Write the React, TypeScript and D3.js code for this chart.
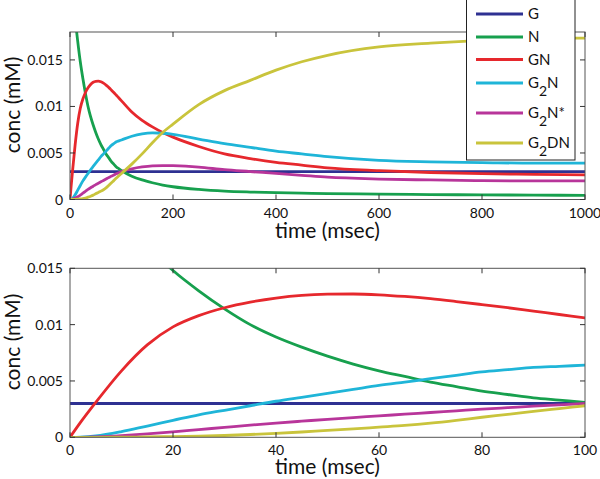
import React from "react";
import * as d3 from "d3";

const times = [0, 2, 5, 10, 15, 20, 25, 30, 35, 40, 45, 50, 55, 60, 65, 70, 75, 80, 85, 90, 95, 100, 120, 140, 160, 180, 200, 250, 300, 350, 400, 450, 500, 600, 700, 800, 900, 1000];

const G = times.map(() => 0.003);
const N = [0.026, 0.0245, 0.0225, 0.0195, 0.017, 0.0148, 0.013, 0.0114, 0.01, 0.0089, 0.008, 0.0072, 0.0065, 0.0059, 0.0054, 0.0049, 0.0045, 0.0041, 0.0038, 0.0035, 0.0033, 0.0031, 0.0025, 0.0021, 0.0018, 0.00155, 0.00137, 0.00108, 0.0009, 0.0008, 0.00073, 0.00068, 0.00064, 0.00058, 0.00053, 0.0005, 0.00047, 0.00045];
const GN = [0, 0.0013, 0.0031, 0.0059, 0.0082, 0.0098, 0.0108, 0.0115, 0.012, 0.01236, 0.0126, 0.0127, 0.01272, 0.01265, 0.0125, 0.0123, 0.01205, 0.01178, 0.0115, 0.0112, 0.0109, 0.0106, 0.0094, 0.0085, 0.0078, 0.0072, 0.0067, 0.0057, 0.0049, 0.0044, 0.004, 0.0037, 0.0034, 0.0031, 0.0029, 0.00277, 0.0027, 0.00265];
const G2N = [0, 0.00002, 0.00012, 0.0005, 0.001, 0.0015, 0.002, 0.0024, 0.0028, 0.0032, 0.00355, 0.0039, 0.00425, 0.0046, 0.0049, 0.0052, 0.0055, 0.0058, 0.006, 0.0062, 0.0063, 0.0064, 0.0068, 0.00705, 0.00715, 0.00712, 0.007, 0.0065, 0.006, 0.0056, 0.0052, 0.0049, 0.0046, 0.0042, 0.00405, 0.00397, 0.0039, 0.0039];
const G2Nstar = [0, 0, 0.00004, 0.00015, 0.0003, 0.00048, 0.00068, 0.00088, 0.00108, 0.00126, 0.00143, 0.0016, 0.00175, 0.0019, 0.00205, 0.0022, 0.00235, 0.0025, 0.00263, 0.00276, 0.00288, 0.003, 0.0033, 0.0035, 0.00362, 0.00365, 0.00363, 0.00348, 0.0032, 0.003, 0.0028, 0.0026, 0.0024, 0.0022, 0.0021, 0.00203, 0.002, 0.002];
const G2DN = [0, 0, 0, 0.00001, 0.00003, 0.00006, 0.0001, 0.00016, 0.00025, 0.00035, 0.00047, 0.00062, 0.00075, 0.0009, 0.00105, 0.00125, 0.0015, 0.00178, 0.00203, 0.0023, 0.00255, 0.0028, 0.0038, 0.0049, 0.0061, 0.0072, 0.0081, 0.0102, 0.0117, 0.0128, 0.0139, 0.0148, 0.0155, 0.0164, 0.0168, 0.0171, 0.0173, 0.01735];

const seriesNames = ["G", "N", "GN", "G2N", "G2N*", "G2DN"];
const seriesValues = [G, N, GN, G2N, G2Nstar, G2DN];
const seriesColors = ["#2e3192", "#17a04e", "#e6282d", "#1fb5d8", "#b8359a", "#c9c43c"];

const topXTicks = [0, 200, 400, 600, 800, 1000];
const topYTicks = [0, 0.005, 0.01, 0.015];
const botXTicks = [0, 20, 40, 60, 80, 100];
const botYTicks = [0, 0.005, 0.01, 0.015];

const FONT = "Lato, 'Open Sans', sans-serif";

function Panel({ id, x0, x1, y0, y1, xmax, ymax, xticks, yticks, labelCy, titleOff }: any) {
  const xs = d3.scaleLinear().domain([0, xmax]).range([x0, x1]);
  const ys = d3.scaleLinear().domain([0, ymax]).range([y1, y0]);
  const line = d3
    .line<number>()
    .x((_, i) => xs(times[i]))
    .y((d) => ys(d))
    .curve(d3.curveMonotoneX);
  const tl = 5;
  const fmt = (v: number) => (v === 0 ? "0" : String(+v.toFixed(3)));
  return (
    <g>
      <defs>
        <clipPath id={id}>
          <rect x={x0} y={y0} width={x1 - x0} height={y1 - y0} />
        </clipPath>
      </defs>
      <g clipPath={`url(#${id})`}>
        {seriesValues.map((vals, k) => (
          <path key={k} d={line(vals) || ""} fill="none" stroke={seriesColors[k]} strokeWidth={2.8} />
        ))}
      </g>
      <rect x={x0} y={y0} width={x1 - x0} height={y1 - y0} fill="none" stroke="#555" strokeWidth={1} />
      {xticks.map((t: number) => (
        <g key={"x" + t}>
          <line x1={xs(t)} x2={xs(t)} y1={y1} y2={y1 - tl} stroke="#333" />
          <line x1={xs(t)} x2={xs(t)} y1={y0} y2={y0 + tl} stroke="#333" />
          <text x={xs(t)} y={y1 + 18} textAnchor="middle" fontSize={14} fontFamily={FONT} fill="#111">
            {t}
          </text>
        </g>
      ))}
      {yticks.map((t: number) => (
        <g key={"y" + t}>
          <line x1={x0} x2={x0 + tl} y1={ys(t)} y2={ys(t)} stroke="#333" />
          <line x1={x1} x2={x1 - tl} y1={ys(t)} y2={ys(t)} stroke="#333" />
          <text x={x0 - 7} y={ys(t)} dy="0.36em" textAnchor="end" fontSize={14} fontFamily={FONT} fill="#111">
            {fmt(t)}
          </text>
        </g>
      ))}
      <text x={(x0 + x1) / 2} y={y1 + titleOff} textAnchor="middle" fontSize={21} fontFamily={FONT} fill="#111">
        time (msec)
      </text>
      <text
        transform={`translate(20,${labelCy}) rotate(-90)`}
        textAnchor="middle"
        fontSize={21}
        fontFamily={FONT}
        fill="#111"
      >
        conc (mM)
      </text>
    </g>
  );
}

function Legend() {
  const rows = [14, 37, 59.5, 83, 113, 143];
  return (
    <g>
      <rect x={466.5} y={-1} width={108.5} height={161} fill="#fff" stroke="#222" strokeWidth={1} />
      {seriesNames.map((name, k) => {
        const y = rows[k];
        const sub = name.startsWith("G2");
        return (
          <g key={name}>
            <line x1={476} x2={523} y1={y} y2={y} stroke={seriesColors[k]} strokeWidth={2.8} />
            <text x={528} y={y} dy="0.36em" fontSize={15} fontFamily={FONT} fill="#111">
              {sub ? (
                <>
                  G
                  <tspan dy={8} fontSize={14}>2</tspan>
                  <tspan dy={-8}>{name.slice(2)}</tspan>
                </>
              ) : (
                name
              )}
            </text>
          </g>
        );
      })}
    </g>
  );
}

export default function App() {
  return (
    <svg width={600} height={479} style={{ position: "absolute", left: 0, top: 0, background: "#fff" }}>
      <rect x={0} y={0} width={600} height={479} fill="#fff" />
      <Panel id="clipTop" x0={70} x1={585} y0={32} y1={199.5} xmax={1000} ymax={0.018} xticks={topXTicks} yticks={topYTicks} labelCy={105} titleOff={38.5} />
      <Panel id="clipBot" x0={70} x1={585} y0={268.3} y1={437.3} xmax={100} ymax={0.015} xticks={botXTicks} yticks={botYTicks} labelCy={342} titleOff={37} />
      <Legend />
    </svg>
  );
}
